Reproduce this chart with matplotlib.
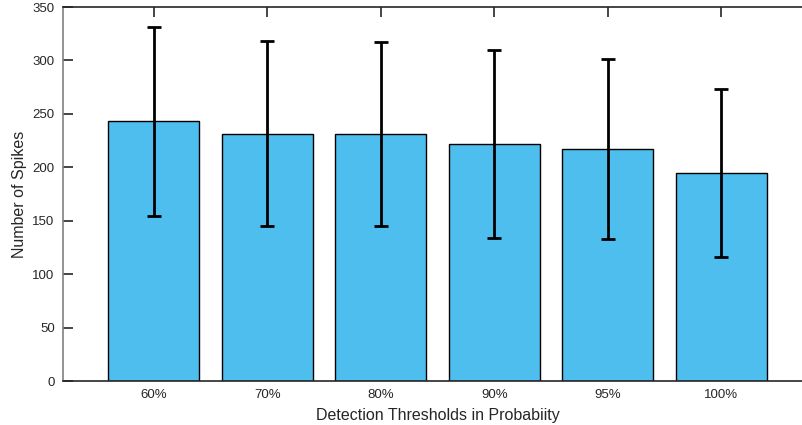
import numpy as np
import matplotlib
matplotlib.use('Agg')
import matplotlib.pyplot as plt

thresholds = ['60%', '70%', '80%', '90%', '95%', '100%']
mean_spikes = [243, 231.4, 231, 221.5, 217, 195]
std_spikes = [88.3, 86.5, 86, 87.8, 84.5, 78.5]

plt.rcParams['font.family'] = ['Liberation Sans', 'DejaVu Sans']
text_col = '#262626'

fig = plt.figure(figsize=(8.03, 4.25), dpi=100)
ax = fig.add_axes([63 / 803, 44 / 425, 749 / 803, 374 / 425])

x = np.arange(1, len(thresholds) + 1)
ax.bar(x, mean_spikes, width=0.8, color='#4DBEEE', edgecolor='black', linewidth=1.0, zorder=2)
ax.errorbar(x, mean_spikes, yerr=std_spikes, fmt='none', ecolor='black',
            elinewidth=2.0, capsize=4.7, capthick=2.0, zorder=3)

ax.set_xlim(0.2, 6.8)
ax.set_ylim(0, 350)
ax.set_yticks(np.arange(0, 351, 50))
ax.set_xticks(x)
ax.set_xticklabels(thresholds)

ax.tick_params(direction='in', length=7, width=1.2, colors=text_col,
               labelsize=9.5, top=True, right=True, pad=6)
for s in ax.spines.values():
    s.set_color(text_col)
    s.set_linewidth(1.2)
ax.spines['left'].set_color('#808080')

ax.set_ylabel('Number of Spikes', fontsize=11.5, color=text_col, labelpad=4)
ax.set_xlabel('Detection Thresholds in Probabiity', fontsize=11.5, color=text_col, labelpad=5)

fig.savefig('out.png', dpi=100)
